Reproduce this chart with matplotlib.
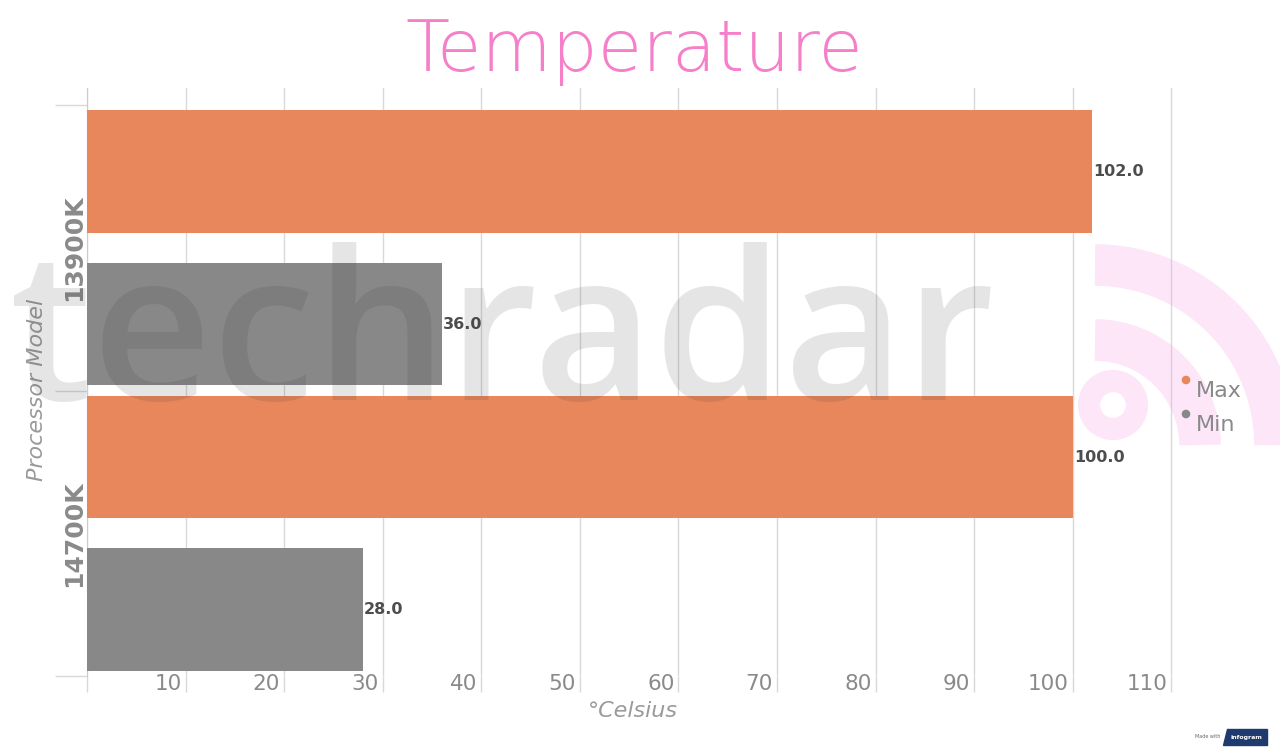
import matplotlib
matplotlib.use("Agg")
import matplotlib.pyplot as plt
from matplotlib.patches import Arc, Circle, Polygon

# ---- data ----
categories = ["13900K", "14700K"]
series_names = ["Max", "Min"]
max_values = [102.0, 100.0]
min_values = [36.0, 28.0]
x_ticks = [10, 20, 30, 40, 50, 60, 70, 80, 90, 100, 110]

c_max = "#e9875c"
c_min = "#888888"
grid_c = "#d9d9d9"
txt_gray = "#8a8a8a"

plt.rcParams['font.family'] = ['DejaVu Sans']

W, H = 1280, 751
fig = plt.figure(figsize=(W / 100, H / 100), dpi=100)
fig.patch.set_facecolor("white")

ax = fig.add_axes([87 / W, 75 / H, 1104 / W, 588 / H])
ax.set_xlim(0, 112)
ax.set_ylim(1.5, -0.56)

off, h = 0.267, 0.43
for i, cat in enumerate(categories):
    ax.barh(i - off, max_values[i], height=h, color=c_max, zorder=3)
    ax.barh(i + off, min_values[i], height=h, color=c_min, zorder=3)
    for val, yy in ((max_values[i], i - off), (min_values[i], i + off)):
        ax.annotate(f"{val:.1f}", xy=(val, yy), xytext=(1, 0), textcoords="offset pixels",
                    ha="left", va="center", fontsize=11.5, fontweight="bold",
                    color="#4d4d4d", zorder=5)
    ax.annotate(cat, xy=(0, i), xycoords=("axes fraction", "data"), xytext=(-13, 0),
                textcoords="offset pixels", rotation=90, ha="center", va="center",
                fontsize=18, fontweight="bold", color=txt_gray)

# grid & ticks
ax.set_xticks([0] + x_ticks)
ax.set_xticklabels([])
ax.grid(axis="x", color=grid_c, lw=1, zorder=0)
ax.tick_params(axis="x", length=11.5, width=1, color=grid_c, direction="out")
ax.set_yticks([-0.5, 0.5, 1.5])
ax.set_yticklabels([])
ax.tick_params(axis="y", length=23, width=1, color=grid_c, direction="out")
for s in ("top", "right", "bottom"):
    ax.spines[s].set_visible(False)
ax.spines["left"].set_color("#cccccc")

for v in x_ticks:
    ax.annotate(str(v), xy=(v, 0), xycoords=("data", "axes fraction"), xytext=(-4, 2),
                textcoords="offset pixels", ha="right", va="top", fontsize=15.5,
                color=txt_gray)

# labels & title
fig.text(634 / W, 1 - 52 / H, "Temperature", ha="center", va="center", fontsize=52,
         fontweight="light", color="#f57fc8")
fig.text(37 / W, 1 - 390 / H, "Processor Model", rotation=90, ha="center", va="center",
         fontsize=16, style="italic", color="#9a9a9a")
fig.text(633 / W, 1 - 711 / H, "°Celsius", ha="center", va="center",
         fontsize=16, style="italic", color="#9a9a9a")

# overlay in pixel coordinates (legend, watermark, credit)
ov = fig.add_axes([0, 0, 1, 1], zorder=10)
ov.set_xlim(0, W)
ov.set_ylim(H, 0)
ov.axis("off")
ov.patch.set_alpha(0)

# faint watermark
ov.text(10, 400, "techradar", fontsize=150, family=["Open Sans", "DejaVu Sans"],
        fontweight="semibold", color="#303030", alpha=0.12, ha="left", va="baseline")
pink = "#f6a6e6"
for r in (105, 180):
    ov.add_patch(Arc((1095, 445), 2 * r, 2 * r, theta1=270, theta2=360, lw=30,
                     color=pink, alpha=0.28))
ov.add_patch(Circle((1113, 405), 24, fill=False, lw=16, color=pink, alpha=0.28))

# legend
leg_colors = [c_max, c_min]
for k, name in enumerate(series_names):
    y0 = 380 + 34 * k
    ov.add_patch(Circle((1186, y0), 3.6, color=leg_colors[k]))
    ov.text(1196, y0 + 11, name, ha="left", va="center", fontsize=16, color=txt_gray)

# credit
ov.text(1220, 737, "Made with", ha="right", va="center", fontsize=3.5, color="#666666")
ov.add_patch(Polygon([[1227, 729], [1267, 729], [1267, 745], [1223, 745]],
                     closed=True, color="#1f3a6e"))
ov.text(1246, 737, "infogram", ha="center", va="center", fontsize=4.5, color="white",
        fontweight="bold")

fig.savefig("out.png", dpi=100, facecolor="white")
